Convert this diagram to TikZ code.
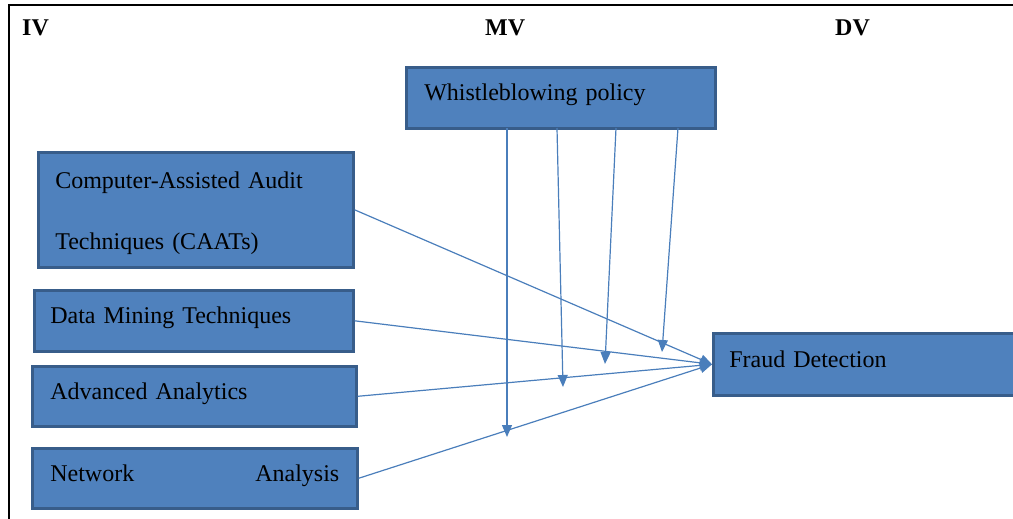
\documentclass[tikz,border=0pt]{standalone}
\usepackage{fontspec}
\setmainfont{Liberation Serif}
\usetikzlibrary{arrows.meta}
\definecolor{boxfill}{HTML}{4F81BD}
\definecolor{boxline}{HTML}{385D8A}
\definecolor{arrcol}{HTML}{4A7EBB}
\tikzset{
  varbox/.style={draw=boxline, fill=boxfill, line width=2.6pt, anchor=north west,
    inner ysep=0pt, align=left, text depth=11pt, font=\fontsize{24}{29}\selectfont, text=black},
  head/.style={anchor=west, inner sep=0pt, font=\fontsize{24}{29}\selectfont\bfseries},
  arr/.style={draw=arrcol, line width=1.2pt, -{Triangle[length=12pt,width=10pt]}}
}
\begin{document}
\begin{tikzpicture}[x=1pt,y=-1pt]
\useasboundingbox (0,0) rectangle (1013,519);
\draw[line width=2pt] (9,519) -- (9,5) -- (1013,5);
\node[head] (iv) at (22,28) {IV};
\node[head] (mv) at (485,28) {MV};
\node[head] (dv) at (835,28) {DV};
\node[varbox, minimum width=309pt, minimum height=61pt, inner xsep=18pt, text width=273pt] (wb) at (405,66) {Whistleblowing policy};
\node[varbox, minimum width=315pt, minimum height=115pt, inner xsep=17pt, text width=281pt, text depth=60pt, font=\fontsize{24}{61}\selectfont] (ca) at (37,151) {Computer-Assisted Audit\\Techniques (CAATs)};
\node[varbox, minimum width=319pt, minimum height=61pt, inner xsep=16pt, text width=287pt] (dm) at (33,289) {Data Mining Techniques};
\node[varbox, minimum width=324pt, minimum height=60pt, inner xsep=18pt, text width=288pt] (aa) at (31,365) {Advanced Analytics};
\node[varbox, minimum width=325pt, minimum height=60pt, inner xsep=18pt, text width=289pt] (na) at (31,447) {Network\hfill Analysis};
\node[varbox, minimum width=313pt, minimum height=62pt, inner xsep=16pt, text width=281pt] (fd) at (712,332) {Fraud Detection};
\draw[arr] (ca.east) -- (fd.west);
\draw[arr] (dm.east) -- (fd.west);
\draw[arr] (aa.east) -- (fd.west);
\draw[arr] (na.east) -- (fd.west);
\coordinate (s1) at (507,128); \coordinate (e1) at (507,437);
\coordinate (s2) at (557,128); \coordinate (e2) at (563,387);
\coordinate (s3) at (616,128); \coordinate (e3) at (605,364);
\coordinate (s4) at (678,128); \coordinate (e4) at (662,352);
\draw[arr] (s1) -- (e1);
\draw[arr] (s2) -- (e2);
\draw[arr] (s3) -- (e3);
\draw[arr] (s4) -- (e4);
\end{tikzpicture}
\end{document}
